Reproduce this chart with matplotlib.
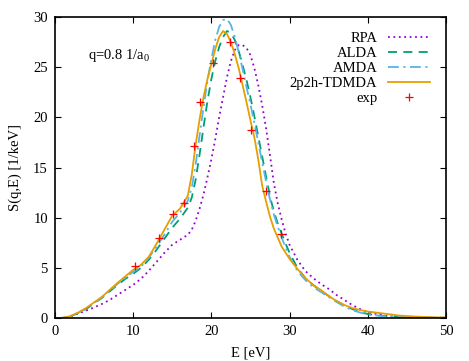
import matplotlib
matplotlib.use('Agg')
import matplotlib.pyplot as plt

plt.rcParams['font.family'] = ['Liberation Serif', 'DejaVu Serif']
plt.rcParams['mathtext.fontset'] = 'custom'
plt.rcParams['mathtext.rm'] = 'Liberation Serif'
plt.rcParams['mathtext.it'] = 'Liberation Serif'

# energy grid of the theory curves [eV]
energy = [0, 1, 2, 3, 4, 5, 6, 7, 8, 9, 10, 11, 12, 13, 14, 15, 16, 17, 17.5,
          18, 18.5, 19, 19.5, 20, 20.5, 21, 21.5, 22, 22.5, 23, 23.5, 24, 24.5,
          25, 25.5, 26, 26.5, 27, 27.5, 28, 28.5, 29, 29.5, 30, 31, 32, 33, 34,
          35, 36, 37, 38, 39, 40, 42, 44, 46, 48, 50]

rpa = [0, 0.0, 0.15, 0.45, 0.75, 1.05, 1.4, 1.8, 2.3, 2.8, 3.3, 3.9, 4.7, 5.6,
       6.5, 7.3, 7.8, 8.3, 8.8, 9.7, 10.9, 12.3, 14.0, 15.8, 17.8, 20.0, 22.0,
       24.0, 25.6, 26.7, 27.2, 27.2, 26.9, 26.2, 24.9, 23.2, 21.2, 18.9, 16.2,
       13.4, 11.4, 9.8, 8.4, 7.3, 5.8, 4.7, 4.0, 3.4, 2.9, 2.3, 1.8, 1.3, 0.9,
       0.6, 0.25, 0.1, 0.05, 0.03, 0.02]

alda = [0, 0.02, 0.18, 0.5, 0.9, 1.45, 2.0, 2.65, 3.3, 3.9, 4.4, 5.0, 5.8, 6.8,
        7.9, 9.0, 9.9, 11.0, 12.0, 13.8, 16.3, 19.0, 21.6, 23.8, 25.6, 27.0,
        28.0, 28.6, 28.4, 27.7, 26.6, 25.2, 23.7, 22.0, 20.1, 18.1, 16.1, 14.1,
        12.1, 10.6, 9.4, 8.4, 7.4, 6.5, 5.0, 4.0, 3.3, 2.7, 2.2, 1.7, 1.25, 0.9,
        0.6, 0.4, 0.2, 0.1, 0.06, 0.04, 0.03]

amda = [0, 0.02, 0.2, 0.52, 0.95, 1.5, 2.05, 2.7, 3.4, 4.0, 4.6, 5.1, 6.0, 7.1,
        8.3, 9.6, 10.5, 11.7, 13.0, 15.3, 18.2, 21.0, 23.6, 25.8, 27.7, 29.0,
        29.7, 29.8, 29.2, 28.0, 26.5, 24.8, 23.0, 21.3, 19.4, 17.5, 15.5, 13.6,
        11.8, 10.3, 9.1, 8.0, 7.0, 6.1, 4.7, 3.8, 3.1, 2.6, 2.1, 1.6, 1.15, 0.8,
        0.55, 0.35, 0.18, 0.1, 0.06, 0.04, 0.03]

tdmda = [0, 0.02, 0.2, 0.55, 1.0, 1.55, 2.1, 2.8, 3.5, 4.15, 4.8, 5.3, 6.1, 7.4,
         8.8, 10.2, 10.9, 12.2, 14.3, 17.3, 19.8, 22.0, 23.8, 25.3, 26.8, 28.0,
         28.6, 28.3, 27.5, 26.3, 24.9, 23.2, 21.5, 19.7, 18.0, 15.8, 13.2, 11.6,
         10.1, 8.9, 8.0, 7.1, 6.5, 5.9, 4.9, 4.0, 3.3, 2.8, 2.2, 1.7, 1.3, 1.0,
         0.8, 0.65, 0.45, 0.25, 0.15, 0.08, 0.05]

# experimental points
exp_e = [10.2, 13.3, 15.1, 16.5, 17.8, 18.5, 20.2, 22.4, 23.7, 25.1, 27.0, 28.9]
exp_s = [5.2, 8.0, 10.4, 11.5, 17.1, 21.5, 25.4, 27.5, 23.9, 18.7, 12.7, 8.4]

fig = plt.figure(figsize=(4.69, 3.61), dpi=100)
ax = fig.add_axes([0.117, 0.119, 0.834, 0.834])

ax.plot(energy, rpa, color='#9400d3', ls=(0, (1, 2)), lw=1.3, label='RPA')
ax.plot(energy, alda, color='#009e73', ls=(0, (5, 3.5)), lw=1.3, label='ALDA')
ax.plot(energy, amda, color='#56b4e9', ls=(0, (6, 2.5, 1.2, 2.5)), lw=1.3, label='AMDA')
ax.plot(energy, tdmda, color='#e69f00', ls='-', lw=1.3, label='2p2h-TDMDA')
ax.plot(exp_e, exp_s, ls='none', marker='+', color='#ff0000', ms=6, mew=0.9,
        label='exp')

ax.set_xlim(0, 50)
ax.set_ylim(0, 30)
ax.set_xticks(range(0, 51, 10))
ax.set_yticks(range(0, 31, 5))
ax.tick_params(direction='in', top=True, right=True, length=4.5, width=0.8,
               labelsize=10.5, pad=5)
for s in ax.spines.values():
    s.set_linewidth(1.2)

ax.set_xlabel('E [eV]', fontsize=10.5, labelpad=6)
ax.set_ylabel('S(q,E) [1/keV]', fontsize=10.5, labelpad=8)
ax.text(4.2, 26.2, 'q=0.8 1/a$_0$', fontsize=10.5, va='center')

ax.legend(loc='upper right', bbox_to_anchor=(0.985, 0.985), frameon=False,
          markerfirst=False, fontsize=10.5, handlelength=2.9,
          handletextpad=0.7, labelspacing=0.12, borderpad=0.2)

fig.savefig('out.png', dpi=100)
